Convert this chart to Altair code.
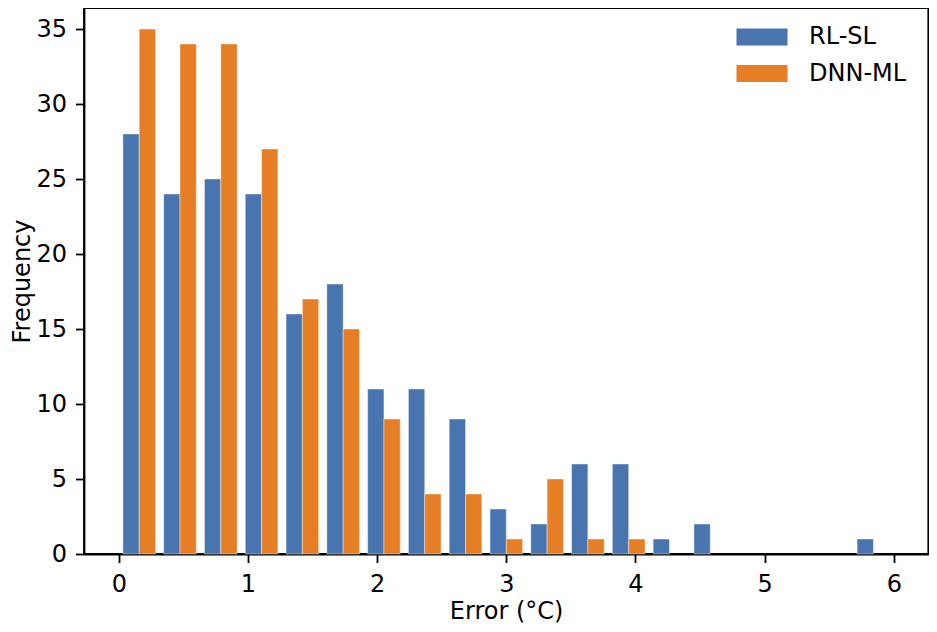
import altair as alt
import pandas as pd

# ---- data ----
series_names = ["RL-SL", "DNN-ML"]
series_colors = ["#4875B0", "#E57E24"]
bin_start = 0.0
bin_end = 6.0
n_bins = 19
rl_sl = [28, 24, 25, 24, 16, 18, 11, 11, 9, 3, 2, 6, 6, 1, 2, 0, 0, 0, 1]
dnn_ml = [35, 34, 34, 27, 17, 15, 9, 4, 4, 1, 5, 1, 1, 0, 0, 0, 0, 0, 0]
x_ticks = [0, 1, 2, 3, 4, 5, 6]
y_ticks = [0, 5, 10, 15, 20, 25, 30, 35]

# ---- build table (matplotlib-style side-by-side histogram, rwidth 0.8) ----
w = (bin_end - bin_start) / n_bins
rows = []
for s_idx, (name, counts) in enumerate(zip(series_names, [rl_sl, dnn_ml])):
    for i, c in enumerate(counts):
        if c == 0:
            continue
        left = bin_start + i * w + 0.1 * w + s_idx * 0.4 * w
        rows.append({"series": name, "x1": left, "x2": left + 0.4 * w, "count": c})
df = pd.DataFrame(rows)

font = "DejaVu Sans"

chart = (
    alt.Chart(df)
    .mark_bar(stroke="white", strokeWidth=0.6, strokeOpacity=0.7)
    .encode(
        x=alt.X(
            "x1:Q",
            scale=alt.Scale(domain=[-0.2695, 6.267], nice=False, zero=False),
            axis=alt.Axis(
                values=x_ticks,
                title="Error (°C)",
                grid=False,
                tickSize=8.5,
                tickWidth=1.8,
                domainWidth=1.8,
                domainColor="black",
                tickColor="black",
                labelFontSize=24,
                labelFont=font,
                labelColor="black",
                labelPadding=10,
                labelFlush=False,
                titleFontSize=24,
                titleFont=font,
                titleFontWeight="normal",
                titleColor="black",
                titlePadding=3,
            ),
        ),
        x2="x2:Q",
        y=alt.Y(
            "count:Q",
            scale=alt.Scale(domain=[0, 36.4], nice=False),
            axis=alt.Axis(
                values=y_ticks,
                title="Frequency",
                grid=False,
                tickSize=8.5,
                tickWidth=1.8,
                domainWidth=1.8,
                domainColor="black",
                tickColor="black",
                labelFontSize=24,
                labelFont=font,
                labelColor="black",
                labelPadding=9,
                titleFontSize=24,
                titleFont=font,
                titleFontWeight="normal",
                titleColor="black",
                titlePadding=1,
            ),
        ),
        y2=alt.datum(0),
        color=alt.Color(
            "series:N",
            scale=alt.Scale(domain=series_names, range=series_colors),
            sort=series_names,
            legend=alt.Legend(
                title=None,
                orient="none",
                legendX=661,
                legendY=12,
                padding=0,
                symbolType="M-1.5,-0.5H1.5V0.5H-1.5Z",
                symbolSize=1156,
                symbolStrokeWidth=0,
                symbolOpacity=1,
                labelFontSize=24,
                labelFont=font,
                labelColor="black",
                labelOffset=30,
                rowPadding=7.5,
            ),
        ),
    )
    .properties(
        width=844.3,
        height=546,
        padding={"left": 76, "top": 0, "right": 0.7, "bottom": 70},
        autosize=alt.AutoSizeParams(type="none"),
    )
    .configure_view(stroke="black", strokeWidth=1.8)
)

chart.save("out.html", embed_options={"renderer": "svg", "actions": False})
